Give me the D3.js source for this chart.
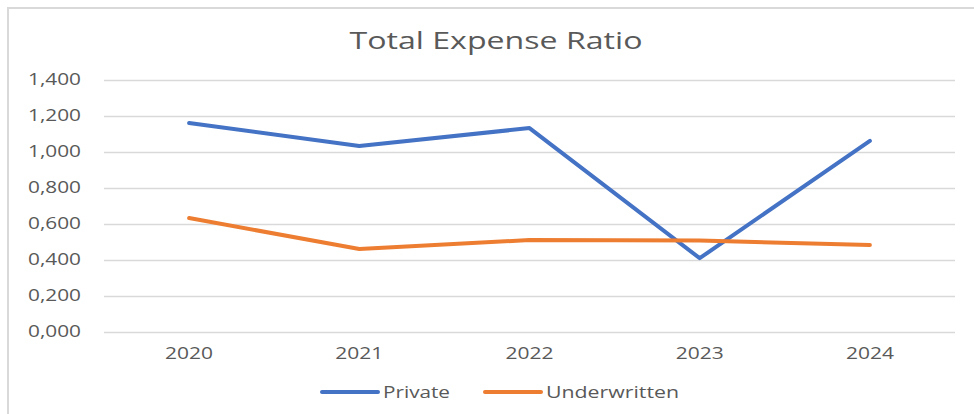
<!DOCTYPE html>
<html><head><meta charset="utf-8">
<script src="https://cdn.jsdelivr.net/npm/d3@7"></script>
<style>body{margin:0;background:#fff}svg{display:block}text{font-family:"Open Sans",sans-serif}</style>
</head><body><svg id="c" width="974" height="414"></svg>
<script>
const categories = ["2020","2021","2022","2023","2024"];
const privateValues = [1.161, 1.033, 1.133, 0.41, 1.062];
const underwrittenValues = [0.633, 0.461, 0.511, 0.508, 0.483];
const yTicks = [0, 0.2, 0.4, 0.6, 0.8, 1.0, 1.2, 1.4];
const seriesNames = ["Private", "Underwritten"];
const colors = ["#4472C4", "#ED7D31"];

const svg = d3.select("#c");
svg.append("rect").attr("x",8).attr("y",8).attr("width",980).attr("height",420)
  .attr("fill","#fff").attr("stroke","#d9d9d9").attr("stroke-width",2);

const x = d3.scaleBand().domain(categories).range([104,955]);
const y = d3.scaleLinear().domain([0,1.4]).range([332,80]);
const loc = d3.formatLocale({decimal:",", thousands:".", grouping:[3], currency:["",""]});
const fmt = loc.format(".3f");

// horizontal stretch to mimic the wide original font
function stretch(sel, k){
  sel.each(function(){
    const w = this.getComputedTextLength();
    d3.select(this).attr("textLength", w*k).attr("lengthAdjust","spacingAndGlyphs");
  });
}

const title = svg.append("text").attr("x",496).attr("y",49).attr("text-anchor","middle")
  .attr("font-size",23).attr("fill","#595959").text("Total Expense Ratio");
stretch(title, 293/title.node().getComputedTextLength());

const yAxis = svg.append("g").attr("transform","translate(104,0)")
  .call(d3.axisLeft(y).tickValues(yTicks).tickFormat(fmt).tickSize(-851).tickPadding(23));
yAxis.select(".domain").remove();
yAxis.selectAll(".tick line").attr("stroke","#d9d9d9").attr("stroke-width",1.5);
yAxis.selectAll(".tick text").attr("fill","#595959").attr("font-size",15.5).attr("font-family","Open Sans, sans-serif");
{
  const w = yAxis.select(".tick:last-of-type text").node().getComputedTextLength();
  stretch(yAxis.selectAll(".tick text"), 53/w);
}

const xAxis = svg.append("g").attr("transform","translate(0,332)")
  .call(d3.axisBottom(x).tickSize(0).tickPadding(15));
xAxis.select(".domain").remove();
xAxis.selectAll(".tick text").attr("fill","#595959").attr("font-size",16.5).attr("font-family","Open Sans, sans-serif");
{
  const w = xAxis.select(".tick text").node().getComputedTextLength();
  stretch(xAxis.selectAll(".tick text"), 48/w);
}

const line = d3.line().x((d,i)=>x(categories[i])+x.bandwidth()/2).y(d=>y(d));
[privateValues, underwrittenValues].forEach((vals,k)=>{
  svg.append("path").datum(vals).attr("d",line).attr("fill","none")
    .attr("stroke",colors[k]).attr("stroke-width",4).attr("stroke-linecap","round").attr("stroke-linejoin","round");
});

const legX = [322, 485];
const legW = [67, 133];
seriesNames.forEach((n,k)=>{
  const g = svg.append("g").attr("transform",`translate(${legX[k]},392)`);
  g.append("line").attr("x1",0).attr("x2",56).attr("stroke",colors[k]).attr("stroke-width",4).attr("stroke-linecap","round");
  const t = g.append("text").attr("x",61).attr("y",6).attr("font-size",16).attr("fill","#595959").text(n);
  stretch(t, legW[k]/t.node().getComputedTextLength());
});
</script></body></html>
